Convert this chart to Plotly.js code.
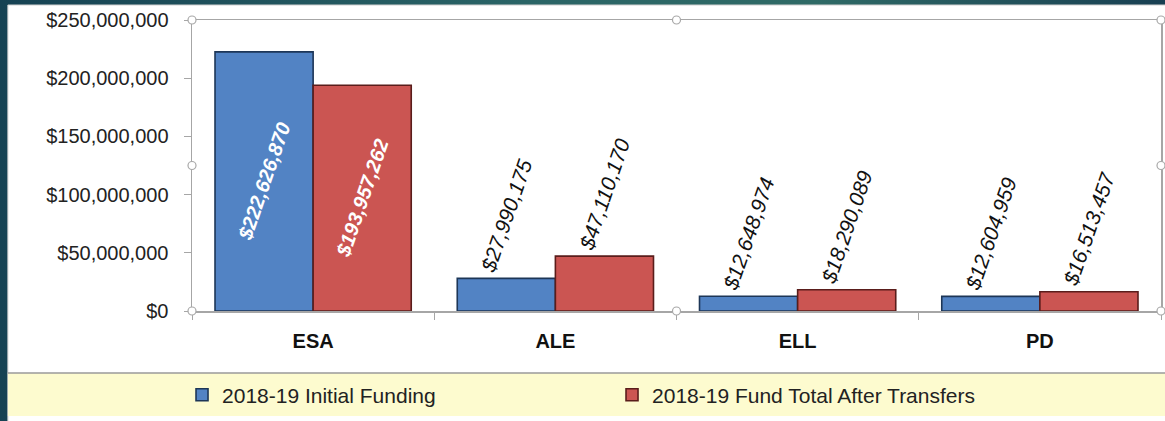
<!DOCTYPE html>
<html>
<head>
<meta charset="utf-8">
<script src="https://cdn.plot.ly/plotly-3.0.1.min.js"></script>
<style>
  html, body { margin: 0; padding: 0; }
  body {
    width: 1165px; height: 421px; overflow: hidden;
    background: linear-gradient(90deg, #164253 0%, #2a6466 45%, #2f6a66 70%, #183f52 100%);
  }
  #chart { width: 1165px; height: 421px; }
</style>
</head>
<body>
<div id="chart"></div>
<script>
// categories and funding values
const programs = ["ESA", "ALE", "ELL", "PD"];
const initialFunding = [222626870, 27990175, 12648974, 12604959];
const afterTransfers = [193957262, 47110170, 18290089, 16513457];
const labelPlacement = ["inside", "outside", "outside", "outside"];
const seriesNames = ["2018-19 Initial Funding", "2018-19 Fund Total After Transfers"];

const FONT = "Liberation Sans Narrow, Arial Narrow, Liberation Sans, Arial, sans-serif";
const BASE = "Liberation Sans, Arial, sans-serif";

function barTrace(vals, name, fill, edge) {
    return {
        x: programs,
        y: vals,
        name: name,
        type: "bar",
        marker: { color: fill, line: { color: edge, width: 1.6 } },
        texttemplate: "%{y:$,.0f}",
        textposition: labelPlacement,
        textangle: -71,
        constraintext: "none",
        insidetextanchor: "middle",
        insidetextfont: { family: FONT, size: 20, color: "white", weight: "bold", style: "italic" },
        outsidetextfont: { family: FONT, size: 21, color: "#111", style: "italic" },
        cliponaxis: false,
        hoverinfo: "x+y"
    };
}

// selection handles on the plot frame
const handles = [];
[[0, 0], [0, 0.5], [0, 1], [0.5, 0], [0.5, 1], [1, 0], [1, 0.5], [1, 1]].forEach(p => {
    handles.push({
        type: "circle", xref: "paper", yref: "paper",
        xsizemode: "pixel", ysizemode: "pixel",
        xanchor: p[0], yanchor: p[1],
        x0: -4, x1: 4, y0: -4, y1: 4,
        fillcolor: "white", line: { color: "#a8a8a8", width: 1.2 }, layer: "above"
    });
});

const layout = {
    width: 1165, height: 421,
    margin: { l: 192, r: 4, t: 20, b: 110 },
    paper_bgcolor: "rgba(0,0,0,0)",
    plot_bgcolor: "white",
    font: { family: BASE, color: "#111" },
    barmode: "group",
    bargap: 0.19,
    bargroupgap: 0,
    showlegend: true,
    legend: {
        orientation: "h",
        x: -0.0103, xanchor: "left",
        y: -0.289, yanchor: "middle",
        font: { family: BASE, size: 21, color: "#222" },
        bgcolor: "rgba(0,0,0,0)",
        entrywidth: 385, entrywidthmode: "pixels"
    },
    xaxis: {
        type: "category",
        showline: true, linecolor: "#a6a6a6", linewidth: 1.5,
        mirror: true,
        ticks: "outside", tickson: "boundaries", ticklen: 7, tickcolor: "#a6a6a6",
        tickfont: { family: BASE, size: 20, color: "#111", weight: "bold" },
        ticklabelstandoff: 11,
        showgrid: false
    },
    yaxis: {
        range: [0, 250000000],
        tickvals: [0, 50000000, 100000000, 150000000, 200000000, 250000000],
        tickformat: "$,.0f",
        showline: true, linecolor: "#a6a6a6", linewidth: 1.5,
        mirror: true,
        ticks: "outside", ticklen: 7, tickcolor: "#a6a6a6",
        tickfont: { family: BASE, size: 20, color: "#222" },
        ticklabelstandoff: 11,
        showgrid: false, zeroline: false
    },
    shapes: [
        // white chart panel
        { type: "rect", xref: "paper", yref: "paper", x0: -0.19, x1: 1.01, y0: -0.38, y1: 1.0515,
          fillcolor: "white", line: { color: "#d0d0d0", width: 1 }, layer: "below" },
        // pale yellow legend strip
        { type: "rect", xref: "paper", yref: "paper", x0: -0.19, x1: 1.01, y0: -0.361, y1: -0.213,
          fillcolor: "#fdfbcf", line: { width: 0 }, layer: "below" },
        { type: "line", xref: "paper", yref: "paper", x0: -0.19, x1: 1.01, y0: -0.213, y1: -0.213,
          line: { color: "#9a9a9a", width: 1.5 }, layer: "below" }
    ].concat(handles)
};

Plotly.newPlot("chart", [
    barTrace(initialFunding, seriesNames[0], "#5283c4", "#1d3657"),
    barTrace(afterTransfers, seriesNames[1], "#cb5552", "#5a1d1b")
], layout, { displayModeBar: false, staticPlot: true });
</script>
</body>
</html>
